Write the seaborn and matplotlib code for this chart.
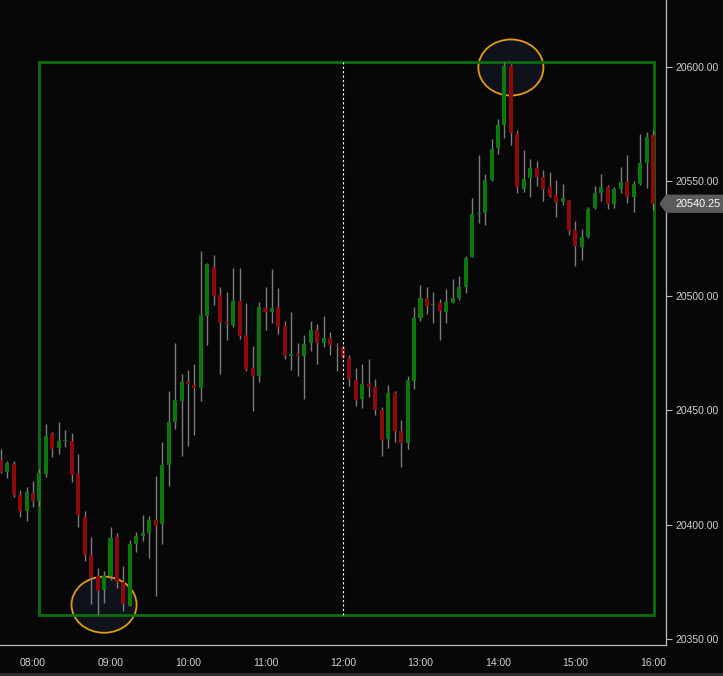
import pandas as pd
import numpy as np
import matplotlib
matplotlib.use("Agg")
import matplotlib.pyplot as plt
from matplotlib.patches import Ellipse, Rectangle, Polygon
from matplotlib.transforms import blended_transform_factory
import seaborn as sns

# 5 minute candles, 07:35 -> 16:00
times = pd.date_range("2024-01-02 07:35", "2024-01-02 16:00", freq="5min")

opens = [20428.25, 20423.0, 20426.5, 20413.0, 20406.0, 20413.75, 20410.5, 20422.0, 20439.5, 20433.5,
         20436.5, 20436.5, 20422.0, 20403.25, 20386.75, 20377.5, 20371.5, 20377.5, 20394.75, 20374.75,
         20364.5, 20391.5, 20395.0, 20396.5, 20402.0, 20400.5, 20426.0, 20444.75, 20454.25, 20462.25,
         20461.0, 20459.75, 20491.25, 20512.75, 20500.25, 20488.75, 20487.25, 20497.75, 20482.75, 20468.5,
         20465.0, 20494.75, 20493.0, 20495.0, 20486.75, 20473.75, 20474.75, 20473.75, 20479.5, 20485.0,
         20479.5, 20481.5, 20478.5, 20477.5, 20473.0, 20463.25, 20455.0, 20461.5, 20460.25, 20450.0,
         20437.5, 20457.5, 20441.0, 20435.5, 20463.0, 20490.5, 20499.0, 20496.0, 20496.75, 20493.0,
         20497.0, 20499.25, 20504.0, 20517.0, 20535.75, 20536.0, 20550.5, 20564.75, 20574.75, 20600.5,
         20570.75, 20546.75, 20551.5, 20556.0, 20552.0, 20547.5, 20544.0, 20541.0, 20541.75, 20528.75,
         20521.5, 20525.75, 20538.25, 20545.0, 20547.5, 20540.25, 20546.5, 20549.75, 20543.25, 20548.75,
         20558.0, 20570.25]
highs = [20433.25, 20427.75, 20427.75, 20415.0, 20416.25, 20419.0, 20424.25, 20444.0, 20440.5, 20444.75,
         20441.25, 20440.0, 20430.75, 20406.0, 20394.75, 20381.25, 20379.75, 20399.0, 20396.5, 20382.0,
         20393.5, 20396.75, 20404.25, 20403.75, 20421.25, 20436.25, 20458.5, 20479.5, 20465.75, 20467.5,
         20470.25, 20519.5, 20514.5, 20517.75, 20504.0, 20501.75, 20512.25, 20512.25, 20497.0, 20478.0,
         20497.25, 20503.75, 20511.75, 20503.25, 20489.0, 20493.0, 20479.5, 20482.75, 20489.0, 20487.75,
         20491.25, 20484.0, 20479.5, 20478.0, 20474.25, 20468.5, 20470.25, 20472.5, 20463.75, 20451.25,
         20461.0, 20458.5, 20445.75, 20465.0, 20495.25, 20504.75, 20504.0, 20501.75, 20498.5, 20503.0,
         20507.25, 20508.75, 20517.5, 20542.75, 20561.5, 20553.25, 20568.75, 20577.25, 20602.0, 20601.25,
         20572.5, 20563.75, 20559.75, 20559.0, 20555.0, 20554.0, 20550.5, 20548.75, 20542.0, 20532.75,
         20529.25, 20538.75, 20548.0, 20553.25, 20548.5, 20547.75, 20556.5, 20561.5, 20550.25, 20570.75,
         20571.5, 20572.5]
lows = [20422.5, 20420.5, 20412.25, 20403.5, 20401.75, 20407.5, 20408.0, 20421.0, 20429.75, 20430.75,
        20434.0, 20418.75, 20399.0, 20384.25, 20365.5, 20360.5, 20365.75, 20375.75, 20372.5, 20362.25,
        20364.25, 20388.25, 20393.0, 20385.25, 20368.75, 20391.5, 20416.75, 20442.0, 20430.0, 20434.25,
        20439.25, 20454.0, 20478.5, 20496.0, 20465.75, 20480.75, 20486.25, 20481.0, 20467.25, 20449.75,
        20462.5, 20485.0, 20488.25, 20483.25, 20472.5, 20467.5, 20464.75, 20455.0, 20476.0, 20470.25,
        20477.75, 20474.25, 20467.25, 20472.75, 20460.75, 20452.0, 20451.0, 20456.0, 20448.0, 20430.0,
        20433.5, 20436.25, 20425.25, 20433.0, 20459.25, 20489.0, 20492.25, 20488.25, 20480.5, 20488.25,
        20496.75, 20498.25, 20501.25, 20517.0, 20531.75, 20531.0, 20550.25, 20562.0, 20569.0, 20566.0,
        20545.0, 20545.5, 20543.0, 20548.0, 20541.25, 20543.0, 20534.25, 20539.75, 20526.5, 20513.25,
        20515.75, 20525.25, 20537.75, 20541.5, 20537.75, 20538.5, 20545.0, 20540.5, 20536.75, 20548.5,
        20547.25, 20537.5]
closes = [20423.0, 20427.0, 20413.0, 20406.0, 20414.25, 20410.5, 20422.5, 20438.75, 20433.0, 20436.5,
          20437.0, 20421.5, 20404.0, 20386.75, 20377.25, 20371.0, 20377.5, 20394.25, 20374.75, 20365.5,
          20391.5, 20395.0, 20396.25, 20402.0, 20399.5, 20426.0, 20444.75, 20454.5, 20462.25, 20461.5,
          20459.75, 20491.5, 20514.0, 20500.0, 20488.75, 20487.75, 20497.75, 20482.5, 20468.0, 20464.75,
          20495.0, 20493.0, 20494.75, 20486.5, 20473.75, 20474.75, 20473.75, 20479.0, 20485.0, 20479.5,
          20481.5, 20478.5, 20478.0, 20473.0, 20463.75, 20454.5, 20461.5, 20460.25, 20450.0, 20437.0,
          20457.5, 20441.0, 20435.5, 20463.25, 20490.25, 20499.0, 20495.75, 20496.5, 20493.5, 20497.25,
          20499.25, 20503.75, 20516.5, 20535.75, 20536.0, 20550.5, 20564.25, 20574.75, 20600.5, 20571.0,
          20547.5, 20551.25, 20556.0, 20552.0, 20546.75, 20543.75, 20541.0, 20542.75, 20528.25, 20521.75,
          20525.75, 20538.0, 20545.0, 20547.5, 20540.25, 20546.75, 20549.75, 20543.0, 20548.75, 20558.0,
          20569.5, 20540.25]

yticks = [20350, 20400, 20450, 20500, 20550, 20600]
xticks = [8, 9, 10, 11, 12, 13, 14, 15, 16]
last_price = "20540.25"

df = pd.DataFrame({"time": times, "open": opens, "high": highs, "low": lows, "close": closes})
df["x"] = df["time"].dt.hour + df["time"].dt.minute / 60.0
df["up"] = df["close"] >= df["open"]

BG = "#070707"
GREEN = "#0b780b"
RED = "#8e0a0a"
WICK = "#7c7c7c"
AXC = "#bdbdbd"

sns.set_style("dark", rc={"axes.facecolor": BG, "figure.facecolor": BG,
                          "axes.edgecolor": AXC, "grid.color": BG})
plt.rcParams["font.family"] = ["Liberation Sans", "DejaVu Sans"]

fig = plt.figure(figsize=(7.23, 6.76), dpi=100)
ax = fig.add_axes([0, 31 / 676, 666 / 723, 645 / 676])
ax.set_facecolor(BG)

# highlight ellipses at the extremes
lo_i = df["low"].idxmin()
hi_i = df["high"].idxmax()
for i, price in [(lo_i, df.loc[lo_i, "low"] + 4.5), (hi_i, df.loc[hi_i, "high"] - 2.2)]:
    ax.add_patch(Ellipse((df.loc[i, "x"] + 5 / 60, price), 0.84, 24.5,
                         facecolor="#0f121b", edgecolor="#e39b12", lw=1.3, zorder=1))

# range box from 08:05 to the end
box = df[df["time"] >= pd.Timestamp("2024-01-02 08:05")]
bx0, bx1 = box["x"].min(), box["x"].max() + 0.01
blo, bhi = box["low"].min(), box["high"].max()
ax.add_patch(Rectangle((bx0, blo), bx1 - bx0, bhi - blo, fill=False,
                       edgecolor="#0b6e0b", lw=2, zorder=2))
ax.vlines(12, blo, bhi, color="white", lw=0.8, linestyles=(0, (2, 2)), zorder=4)

# candles
ax.vlines(df["x"], df["low"], df["high"], color=WICK, lw=1, zorder=3)
body_bottom = np.minimum(df["open"], df["close"])
body_h = np.maximum(np.abs(df["close"] - df["open"]), 0.45)
colors = np.where(df["up"], GREEN, RED)
ax.bar(df["x"], body_h, bottom=body_bottom, width=0.052, color=colors,
       edgecolor="none", zorder=3.5)

ax.set_xlim(7.574, 16.168)
ax.set_ylim(20347.4, 20629.3)
ax.set_xticks(xticks)
ax.set_xticklabels([f"{h:02d}:00" for h in xticks])
ax.set_yticks(yticks)
ax.set_yticklabels([f"{v:.2f}" for v in yticks])
ax.yaxis.tick_right()
ax.tick_params(axis="both", colors=AXC, labelcolor="#d2d2d2", labelsize=7.5,
               length=4, width=0.8)
ax.tick_params(axis="x", pad=5)
ax.tick_params(axis="y", pad=3)
ax.grid(False)
for s in ["left", "top"]:
    ax.spines[s].set_visible(False)
for s in ["right", "bottom"]:
    ax.spines[s].set_color(AXC)
    ax.spines[s].set_linewidth(0.9)

# last price tag
tr = blended_transform_factory(ax.transAxes, ax.transData)
p = float(last_price)
ax.add_patch(Polygon([(0.99, p), (1.0, p + 4), (1.09, p + 4), (1.09, p - 4), (1.0, p - 4)],
                     closed=True, transform=tr, clip_on=False, facecolor="#5b5b5b",
                     edgecolor="none", zorder=6))
ax.text(1.014, p, last_price, transform=tr, color="white", fontsize=7.8,
        va="center", ha="left", zorder=7, clip_on=False)

# grey strip at the bottom
fig.patches.append(Rectangle((0, 0), 1, 3.5 / 676, transform=fig.transFigure,
                             facecolor="#2c2c2c", edgecolor="none"))

fig.savefig("out.png", dpi=100, facecolor=BG)
